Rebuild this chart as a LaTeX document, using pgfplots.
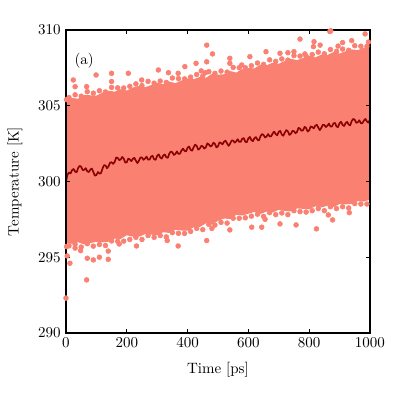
\documentclass[border=0pt]{standalone}
\usepackage{pgfplots}
\pgfplotsset{compat=1.18}
\definecolor{salmonc}{RGB}{250,128,114}
\definecolor{darkredc}{RGB}{139,0,0}
\begin{document}
\begin{tikzpicture}
\begin{axis}[
  scale only axis,
  width=202.7pt, height=202pt,
  xmin=0, xmax=1000, ymin=290, ymax=310,
  xtick={0,200,400,600,800,1000},
  ytick={290,295,300,305,310},
  /pgf/number format/1000 sep={},
  tick align=inside,
  major tick length=2.8pt,
  axis line style={line width=0.8pt},
  every tick/.style={black, line width=0.6pt},
  xlabel={Time [ps]},
  ylabel={Temperature [K]},
  xlabel style={at={(axis description cs:0.5,-0.122)},anchor=center},
  ylabel style={at={(axis description cs:-0.168,0.5)},anchor=center},
  axis on top,
]
% dense cloud of the scatter (envelope)
\addplot[fill=salmonc, draw=none] coordinates {
(0,305.35)(20,305.51)(40,305.46)(60,305.71)(80,305.69)(100,305.67)(120,305.87)(140,305.99)(160,305.93)(180,306.09)
(200,306.00)(220,306.20)(240,306.31)(260,306.22)(280,306.36)(300,306.51)(320,306.42)(340,306.59)(360,306.49)(380,306.67)
(400,306.80)(420,306.75)(440,306.90)(460,306.84)(480,307.10)(500,307.05)(520,307.08)(540,307.29)(560,307.19)(580,307.42)
(600,307.48)(620,307.47)(640,307.71)(660,307.67)(680,307.84)(700,307.77)(720,307.96)(740,308.10)(760,308.01)(780,308.15)
(800,308.29)(820,308.19)(840,308.37)(860,308.35)(880,308.54)(900,308.44)(920,308.60)(940,308.72)(960,308.67)(980,308.84)(1000,308.85)
(1000,298.80)(980,298.67)(960,298.70)(940,298.51)(920,298.49)(900,298.51)(880,298.31)(860,298.40)(840,298.28)(820,298.36)
(800,298.16)(780,298.19)(760,298.22)(740,298.02)(720,298.05)(700,298.13)(680,297.95)(660,298.01)(640,297.86)(620,297.99)
(600,297.87)(580,297.75)(560,297.80)(540,297.52)(520,297.55)(500,297.40)(480,297.16)(460,297.23)(440,296.99)(420,296.97)
(400,296.75)(380,296.76)(360,296.81)(340,296.60)(320,296.65)(300,296.45)(280,296.49)(260,296.52)(240,296.35)(220,296.35)
(200,296.45)(180,296.21)(160,296.22)(140,296.02)(120,295.98)(100,296.02)(80,295.93)(60,295.84)(40,295.99)(20,295.88)(0,295.95)
} -- cycle;
% scattered points at the fringe and outside the dense cloud
\addplot[only marks, mark=*, mark size=1.6pt, color=salmonc] coordinates {
(10,305.54)(30,305.72)(50,305.63)(70,305.93)(90,305.83)(110,305.99)(130,305.91)(150,306.21)(170,306.18)(190,306.17)
(210,306.28)(230,306.44)(250,306.33)(270,306.61)(290,306.49)(310,306.63)(330,306.54)(350,306.83)(370,306.79)(390,306.77)
(410,306.89)(430,307.06)(450,306.96)(470,307.25)(490,307.14)(510,307.29)(530,307.22)(550,307.53)(570,307.51)(590,307.51)
(610,307.64)(630,307.82)(650,307.73)(670,308.03)(690,307.93)(710,308.09)(730,308.01)(750,308.31)(770,308.28)(790,308.27)
(810,308.38)(830,308.54)(850,308.43)(870,308.71)(890,308.59)(910,308.74)(930,308.66)(950,308.96)(970,308.93)(990,308.92)
(10,295.75)(30,295.85)(50,295.67)(70,295.89)(90,295.73)(110,295.84)(130,295.77)(150,296.07)(170,296.05)(190,296.06)
(210,296.17)(230,296.31)(250,296.17)(270,296.43)(290,296.31)(310,296.43)(330,296.34)(350,296.62)(370,296.58)(390,296.57)
(410,296.70)(430,296.90)(450,296.82)(470,297.16)(490,297.12)(510,297.30)(530,297.25)(550,297.57)(570,297.57)(590,297.60)
(610,297.71)(630,297.84)(650,297.69)(670,297.94)(690,297.81)(710,297.92)(730,297.81)(750,298.07)(770,298.01)(790,297.98)
(810,298.07)(830,298.21)(850,298.07)(870,298.33)(890,298.21)(910,298.33)(930,298.25)(950,298.54)(970,298.51)(990,298.51)
(24,306.7)(30,306.26)(68,306.26)(99,307.03)(150,307.14)(150,306.6)(205,307.14)
(249,306.7)(304,307.36)(337,307.18)(369,307.14)(391,307.58)(428,307.8)(445,307.3)
(459,307.18)(463,307.9)(463,309.0)(482,308.42)(539,308.13)(539,307.8)(578,307.69)
(605,308.24)(658,308.57)(704,308.46)(730,308.5)(750,308.57)(770,309.4)(786,308.42)
(816,309.23)(814,308.9)(836,309.0)(868,309.9)(871,309.95)(895,308.94)(910,309.17)(940,309.3)
(984,309.74)(995,309.2)(2,305.4)
(0,292.3)(68,293.5)(13,294.6)(4,295.08)(48,295.43)(70,294.93)(90,294.82)(110,295.0)(139,294.86)(139,295.4)
(30,295.6)(175,295.87)(232,295.74)(333,296.1)(369,295.74)
(463,296.1)(480,296.9)(539,296.8)(611,296.98)(644,296.98)(655,297.5)
(704,297.2)(757,297.13)(824,296.87)(863,297.79)(877,297.46)(932,297.94)
(2,295.7)
};
% running average
\addplot[color=darkredc, line width=1.1pt, line join=round] coordinates {
(0,300.00)(5,300.45)(10,300.59)(15,300.53)(20,300.75)(25,300.82)(30,300.65)(35,300.61)(40,300.89)(45,301.03)
(50,300.97)(55,300.75)(60,300.77)(65,300.88)(70,300.67)(75,300.62)(80,300.78)(85,300.85)(90,300.63)(95,300.38)
(100,300.42)(105,300.62)(110,300.52)(115,300.54)(120,300.84)(125,301.07)(130,301.06)(135,300.87)(140,301.00)(145,301.24)
(150,301.27)(155,301.16)(160,301.28)(165,301.58)(170,301.56)(175,301.41)(180,301.45)(185,301.62)(190,301.51)(195,301.24)
(200,301.27)(205,301.51)(210,301.45)(215,301.34)(220,301.50)(225,301.56)(230,301.37)(235,301.21)(240,301.37)(245,301.58)
(250,301.58)(255,301.43)(260,301.51)(265,301.64)(270,301.44)(275,301.44)(280,301.64)(285,301.69)(290,301.46)(295,301.43)
(300,301.70)(305,301.79)(310,301.58)(315,301.51)(320,301.71)(325,301.78)(330,301.60)(335,301.56)(340,301.84)(345,301.98)
(350,301.92)(355,301.75)(360,301.82)(365,301.98)(370,301.82)(375,301.83)(380,302.04)(385,302.17)(390,302.02)(395,301.98)
(400,302.23)(405,302.31)(410,302.08)(415,302.03)(420,302.26)(425,302.43)(430,302.35)(435,302.10)(440,302.17)(445,302.35)
(450,302.32)(455,302.17)(460,302.25)(465,302.51)(470,302.45)(475,302.31)(480,302.36)(485,302.56)(490,302.48)(495,302.25)
(500,302.32)(505,302.58)(510,302.54)(515,302.45)(520,302.63)(525,302.69)(530,302.51)(535,302.35)(540,302.50)(545,302.70)
(550,302.70)(555,302.56)(560,302.65)(565,302.79)(570,302.61)(575,302.62)(580,302.82)(585,302.86)(590,302.62)(595,302.59)
(600,302.85)(605,302.94)(610,302.73)(615,302.66)(620,302.86)(625,302.93)(630,302.75)(635,302.71)(640,302.99)(645,303.13)
(650,303.07)(655,302.90)(660,302.97)(665,303.13)(670,302.97)(675,302.98)(680,303.18)(685,303.29)(690,303.12)(695,303.05)
(700,303.28)(705,303.34)(710,303.09)(715,303.02)(720,303.23)(725,303.39)(730,303.31)(735,303.07)(740,303.15)(745,303.34)
(750,303.32)(755,303.18)(760,303.27)(765,303.54)(770,303.49)(775,303.34)(780,303.39)(785,303.60)(790,303.53)(795,303.30)
(800,303.37)(805,303.63)(810,303.59)(815,303.50)(820,303.68)(825,303.74)(830,303.56)(835,303.39)(840,303.54)(845,303.74)
(850,303.73)(855,303.59)(860,303.68)(865,303.82)(870,303.63)(875,303.63)(880,303.83)(885,303.87)(890,303.63)(895,303.59)
(900,303.85)(905,303.94)(910,303.73)(915,303.66)(920,303.86)(925,303.93)(930,303.75)(935,303.71)(940,303.99)(945,304.13)
(950,304.07)(955,303.87)(960,303.91)(965,304.04)(970,303.85)(975,303.84)(980,304.02)(985,304.13)(990,303.96)(995,303.88)
(1000,304.10)
};
\node at (axis cs:60,307.95) {(a)};
\end{axis}
\path ([shift={(-44pt,-43.3pt)}]current axis.south west) rectangle ([shift={(18.7pt,20pt)}]current axis.north east);
\end{tikzpicture}
\end{document}
